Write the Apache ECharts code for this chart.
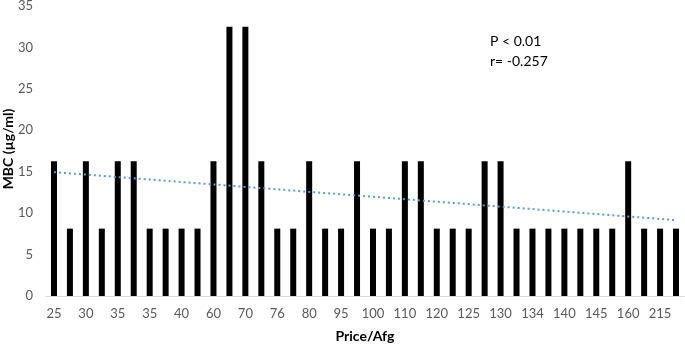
<!DOCTYPE html>
<html>
<head>
<meta charset="utf-8">
<script src="https://cdn.jsdelivr.net/npm/echarts@6/dist/echarts.min.js"></script>
<style>
  html, body { margin: 0; padding: 0; background: #fff; }
  #main { width: 685px; height: 345px; }
</style>
</head>
<body>
<div id="main"></div>
<script>
// price categories (every other one is labelled on the axis)
const prices = ['25', '28', '30', '33', '35', '35 ', '35', '38', '40', '50',
  '60', '65', '70', '75', '76', '78', '80', '90', '95', '96',
  '100', '105', '110', '115', '120', '122', '125', '128', '130', '132',
  '134', '135', '140', '142', '145', '150', '160', '200', '215', '250'];
const mbc = [16.25, 8.13, 16.25, 8.13, 16.25, 16.25, 8.13, 8.13, 8.13, 8.13,
  16.25, 32.5, 32.5, 16.25, 8.13, 8.13, 16.25, 8.13, 8.13, 16.25,
  8.13, 8.13, 16.25, 16.25, 8.13, 8.13, 8.13, 16.25, 16.25, 8.13,
  8.13, 8.13, 8.13, 8.13, 8.13, 8.13, 16.25, 8.13, 8.13, 8.13];
// linear trendline, read at first and last category
const trend = [[0, 14.95], [39, 9.15]];
const yTicks = { min: 0, max: 35, interval: 5 };

const chart = echarts.init(document.getElementById('main'), null, { renderer: 'canvas' });
const font = 'Lato, "Open Sans", sans-serif';
const titleStyle = { fontFamily: font, fontWeight: 'bold', fontSize: 14, fill: '#000', align: 'center', verticalAlign: 'middle' };

const option = {
  animation: false,
  grid: { left: 46, right: 1, top: 6, bottom: 49, outerBoundsMode: 'none', containLabel: false },
  xAxis: {
    type: 'category',
    data: prices,
    axisLine: { lineStyle: { color: '#D9D9D9', width: 1 } },
    axisTick: { show: false },
    axisLabel: { interval: 1, color: '#595959', fontSize: 13, fontFamily: font, margin: 11 }
  },
  yAxis: {
    type: 'value',
    min: yTicks.min,
    max: yTicks.max,
    interval: yTicks.interval,
    axisLine: { show: false },
    axisTick: { show: false },
    splitLine: { show: false },
    axisLabel: { color: '#595959', fontSize: 13, fontFamily: font, margin: 13 }
  },
  series: [
    {
      type: 'bar',
      data: mbc,
      barWidth: 6,
      itemStyle: { color: '#000' }
    },
    {
      type: 'line',
      data: trend,
      symbol: 'none',
      lineStyle: { color: '#5B9BD5', width: 2, type: [2, 3] },
      z: 3
    }
  ],
  graphic: [
    {
      type: 'text',
      x: 8, y: 149,
      rotation: Math.PI / 2,
      style: Object.assign({ text: 'MBC (µg/ml)' }, titleStyle)
    },
    {
      type: 'text',
      x: 365, y: 336,
      style: Object.assign({ text: 'Price/Afg' }, titleStyle)
    },
    {
      type: 'text',
      left: 490,
      top: 31,
      style: {
        text: 'P < 0.01\nr= -0.257',
        fontFamily: font,
        fontSize: 14,
        lineHeight: 20,
        fill: '#000'
      }
    }
  ]
};
chart.setOption(option);
</script>
</body>
</html>
